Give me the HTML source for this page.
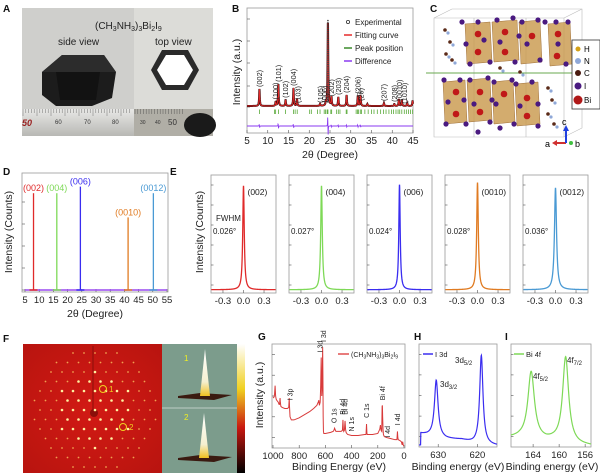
<!DOCTYPE html>
<html><head><meta charset="utf-8">
<style>
html,body{margin:0;padding:0;background:#fff;}
svg{display:block;font-family:"Liberation Sans",sans-serif;}
.t{font-size:9px;fill:#222;}
.lab{font-size:10.5px;fill:#222;}
.pl{font-size:10px;font-weight:bold;fill:#111;}
</style></head>
<body>
<svg id="fig" width="600" height="473" viewBox="0 0 600 473" xmlns="http://www.w3.org/2000/svg">
<defs>
<linearGradient id="ruler" x1="0" y1="0" x2="0" y2="1"><stop offset="0" stop-color="#e8e8e6"/><stop offset="1" stop-color="#b8b8b4"/></linearGradient>
<radialGradient id="redbg" cx="0.5" cy="0.5" r="0.7"><stop offset="0" stop-color="#d21a14"/><stop offset="1" stop-color="#b8140f"/></radialGradient>
<linearGradient id="cbar" x1="0" y1="0" x2="0" y2="1"><stop offset="0" stop-color="#fff"/><stop offset="0.35" stop-color="#f0d020"/><stop offset="0.65" stop-color="#c81810"/><stop offset="1" stop-color="#000"/></linearGradient>
<linearGradient id="peakg" x1="0" y1="0" x2="0" y2="1"><stop offset="0" stop-color="#fff"/><stop offset="0.7" stop-color="#f4f0d0"/><stop offset="1" stop-color="#f0c020"/></linearGradient>
</defs>

<!-- Panel A -->
<g>
<text class="pl" x="3" y="12">A</text>
<rect x="22" y="8" width="112" height="128" fill="#cfcfcc"/>
<rect x="134" y="8" width="79" height="128" fill="#dcdcd8"/>
<polygon points="42,72 62,55 104,55 116,72 112,98 92,106 56,106 42,95" fill="#1c1c1c"/>
<polygon points="42,72 62,55 104,55 116,72 100,72 56,72" fill="#2c2c2c"/>
<polygon points="56,72 100,72 96,100 60,100" fill="#121212"/>
<polygon points="151,70 162,50 188,50 199,70 188,90 162,90" fill="#2a2a2a"/>
<polygon points="157,70 166,55 184,55 193,70 184,85 166,85" fill="#ffffff"/>
<text x="95" y="29" font-size="10" fill="#222">(CH<tspan font-size="7" dy="2">3</tspan><tspan dy="-2">NH</tspan><tspan font-size="7" dy="2">3</tspan><tspan dy="-2">)</tspan><tspan font-size="7" dy="2">3</tspan><tspan dy="-2">Bi</tspan><tspan font-size="7" dy="2">2</tspan><tspan dy="-2">I</tspan><tspan font-size="7" dy="2">9</tspan></text>
<text x="58" y="45" font-size="10" fill="#222">side view</text>
<text x="155" y="45" font-size="10" fill="#222">top view</text>
<rect x="22" y="109" width="112" height="27" fill="url(#ruler)"/>
<rect x="134" y="109" width="79" height="27" fill="#b0aea6"/>
<ellipse cx="200" cy="125" rx="16" ry="12" fill="#1a1a1a"/>
<text x="22" y="126" font-size="9" font-style="italic" font-weight="bold" fill="#9a2020">50</text>
<text x="55" y="124" font-size="6" fill="#333">60</text>
<text x="84" y="124" font-size="6" fill="#333">70</text>
<text x="112" y="124" font-size="6" fill="#333">80</text>
<text x="140" y="124" font-size="5" fill="#333">30</text>
<text x="155" y="124" font-size="5" fill="#333">40</text>
<text x="168" y="125" font-size="8" fill="#333">50</text>
<g id="rulerticks"></g>
</g>

<!-- Panel B -->
<g>
<text class="pl" x="232" y="12">B</text>
<rect x="247" y="8" width="166" height="125" fill="none" stroke="#999" stroke-width="0.8"/>
<g id="bplot"></g>
<text class="lab" transform="translate(240,72) rotate(-90)" text-anchor="middle">Intensity (a.u.)</text>
<text class="lab" x="330" y="158" text-anchor="middle">2θ (Degree)</text>
<g>
<circle cx="348" cy="22" r="1.6" fill="none" stroke="#333" stroke-width="0.8"/>
<text x="355" y="25" font-size="8" fill="#222">Experimental</text>
<line x1="344" y1="35" x2="352" y2="35" stroke="#e52a2a" stroke-width="1.5"/>
<text x="355" y="38" font-size="8" fill="#222">Fitting curve</text>
<line x1="344" y1="48" x2="352" y2="48" stroke="#3a8a2a" stroke-width="1.5"/>
<text x="355" y="51" font-size="8" fill="#222">Peak position</text>
<line x1="344" y1="61" x2="352" y2="61" stroke="#8a3af0" stroke-width="1.5"/>
<text x="355" y="64" font-size="8" fill="#222">Difference</text>
</g>
</g>

<!-- Panel C -->
<g>
<text class="pl" x="430" y="12">C</text>
<g fill="none" stroke="#bbb" stroke-width="0.6">
<polygon points="434,18 452,9 582,9 582,128 564,137 434,137"/><line x1="434" y1="18" x2="564" y2="18"/><line x1="564" y1="18" x2="564" y2="137"/><line x1="564" y1="18" x2="582" y2="9"/><line x1="474" y1="18" x2="474" y2="137"/><line x1="526" y1="18" x2="526" y2="137"/>
</g>
<line x1="426" y1="73" x2="574" y2="73" stroke="#6aa84f" stroke-width="1"/>
<g fill="#c8974a" fill-opacity="0.8" stroke="#a0703a" stroke-width="0.5">
<polygon points="465,24 490,22 492,62 467,64"/><polygon points="492,22 517,20 519,60 494,62"/><polygon points="519,22 540,20 542,62 521,64"/><polygon points="548,24 570,22 572,64 550,66"/>
<polygon points="443,82 465,80 467,122 445,124"/><polygon points="467,80 490,78 492,120 469,122"/><polygon points="492,82 513,80 515,122 494,124"/><polygon points="515,84 538,82 540,124 517,126"/>
</g>
<g id="cmol"></g>
<rect x="572" y="40" width="28" height="69" fill="#fff" stroke="#333" stroke-width="0.8"/>
<circle cx="578" cy="49" r="2.5" fill="#d4a017"/><text x="584" y="52" font-size="8">H</text>
<circle cx="578" cy="61" r="3" fill="#8fa8d8"/><text x="584" y="64" font-size="8">N</text>
<circle cx="578" cy="73" r="3" fill="#4a1a10"/><text x="584" y="76" font-size="8">C</text>
<circle cx="578" cy="86" r="3.5" fill="#4a1a80"/><text x="584" y="89" font-size="8">I</text>
<circle cx="578" cy="100" r="4.5" fill="#b01818"/><text x="584" y="103" font-size="8">Bi</text>
<line x1="566" y1="143" x2="556" y2="143" stroke="#d03030" stroke-width="2"/><polygon points="552,143 557,140 557,146" fill="#d03030"/>
<line x1="566" y1="143" x2="566" y2="130" stroke="#2040e0" stroke-width="2"/><polygon points="566,125 563,131 569,131" fill="#2040e0"/>
<circle cx="571" cy="143" r="2" fill="#40c040"/>
<text x="545" y="147" font-size="9">a</text>
<text x="562" y="125" font-size="9">c</text>
<text x="575" y="147" font-size="9">b</text>
</g>

<!-- Panel D -->
<g>
<text class="pl" x="3" y="175">D</text>
<rect x="22" y="173" width="146" height="119" fill="none" stroke="#999" stroke-width="0.8"/>
<g id="dplot"></g>
<text class="lab" transform="translate(12,232) rotate(-90)" text-anchor="middle">Intensity (Counts)</text>
<text class="lab" x="95" y="317" text-anchor="middle">2θ (Degree)</text>
</g>

<!-- Panel E -->
<g>
<text class="pl" x="170" y="175">E</text>
<text class="lab" transform="translate(203,232) rotate(-90)" text-anchor="middle">Intensity (Counts)</text>
<text x="216" y="221" font-size="8" fill="#222">FWHM</text>
<g id="eplot"></g>
</g>

<!-- Panel F -->
<g>
<text class="pl" x="3" y="342">F</text>
<rect x="23" y="344" width="139" height="129" fill="url(#redbg)"/>
<line x1="93" y1="346" x2="93" y2="412" stroke="#8a0f0a" stroke-width="1"/>
<circle cx="94" cy="413" r="4" fill="#8a0f0a"/>
<g id="fspots"></g>
<circle cx="103" cy="389" r="3.5" fill="none" stroke="#f0d020" stroke-width="1"/>
<text x="109" y="392" font-size="8" fill="#f0d020">1</text>
<circle cx="123" cy="427" r="3.5" fill="none" stroke="#f0d020" stroke-width="1"/>
<text x="129" y="430" font-size="8" fill="#f0d020">2</text>
<rect x="162" y="344" width="75" height="129" fill="#7c9c8c"/>
<line x1="162" y1="408" x2="237" y2="408" stroke="#fff" stroke-width="0.5"/>
<polygon points="178,396 200,393 232,395 214,400 178,398" fill="#3a1a10"/>
<polygon points="200,396 205,349 210,396" fill="url(#peakg)"/>
<polygon points="178,458 200,455 232,457 214,462 178,460" fill="#3a1a10"/>
<polygon points="199,458 204,413 209,458" fill="url(#peakg)"/>
<text x="184" y="361" font-size="8" fill="#f0f020">1</text>
<text x="184" y="420" font-size="8" fill="#f0f020">2</text>
<rect x="237" y="344" width="8" height="129" fill="url(#cbar)"/>
</g>

<!-- Panel G -->
<g>
<text class="pl" x="258" y="340">G</text>
<rect x="272" y="344" width="133" height="104" fill="none" stroke="#999" stroke-width="0.8"/>
<g id="gplot"></g>
<text class="lab" transform="translate(263,395) rotate(-90)" text-anchor="middle" font-size="9.5">Intensity (a.u.)</text>
<text class="lab" x="339" y="470" text-anchor="middle">Binding Energy (eV)</text>
<line x1="338" y1="354" x2="349" y2="354" stroke="#e05050" stroke-width="1.5"/>
<text x="351" y="357" font-size="7" fill="#222">(CH<tspan font-size="5" dy="1.5">3</tspan><tspan dy="-1.5">NH</tspan><tspan font-size="5" dy="1.5">3</tspan><tspan dy="-1.5">)</tspan><tspan font-size="5" dy="1.5">3</tspan><tspan dy="-1.5">Bi</tspan><tspan font-size="5" dy="1.5">2</tspan><tspan dy="-1.5">I</tspan><tspan font-size="5" dy="1.5">9</tspan></text>
</g>

<!-- Panel H -->
<g>
<text class="pl" x="414" y="340">H</text>
<rect x="419" y="344" width="78" height="103" fill="none" stroke="#999" stroke-width="0.8"/>
<g id="hplot"></g>
<line x1="423" y1="354" x2="433" y2="354" stroke="#3a2df0" stroke-width="1.5"/>
<text x="435" y="357" font-size="7.5" fill="#222">I 3d</text>
<text x="455" y="363" font-size="8" fill="#222">3d<tspan font-size="6" dy="2">5/2</tspan></text>
<text x="440" y="387" font-size="8" fill="#222">3d<tspan font-size="6" dy="2">3/2</tspan></text>
<text class="lab" x="458" y="470" text-anchor="middle">Binding energy (eV)</text>
</g>

<!-- Panel I -->
<g>
<text class="pl" x="505" y="340">I</text>
<rect x="511" y="344" width="80" height="103" fill="none" stroke="#999" stroke-width="0.8"/>
<g id="iplot"></g>
<line x1="514" y1="354" x2="524" y2="354" stroke="#7ed957" stroke-width="1.5"/>
<text x="526" y="357" font-size="7.5" fill="#222">Bi 4f</text>
<text x="567" y="363" font-size="8" fill="#222">4f<tspan font-size="6" dy="2">7/2</tspan></text>
<text x="533" y="379" font-size="8" fill="#222">4f<tspan font-size="6" dy="2">5/2</tspan></text>
<text class="lab" x="552" y="470" text-anchor="middle">Binding energy (eV)</text>
</g>
</svg>

<script>
// ---------- data ----------
// Panel B: XRD peaks
const bPeakPos = [8.0, 11.9, 12.55, 14.3, 16.2, 17.05, 22.6, 24.0, 24.5, 25.35, 27.0, 29.0, 31.7, 32.35, 34.0, 38.0, 40.5, 41.6, 42.3, 43.6, 44.9];
const bPeakInt = [17, 4, 22, 6, 18, 7, 2, 3, 86, 9, 9, 11, 10, 11, 2, 3, 2, 7, 6, 3, 5];
const bTickPos = [8.0,11.6,11.9,12.6,14.3,16.2,16.6,17.1,20.1,20.5,22.0,22.6,23.6,23.9,24.3,24.5,25.2,25.4,26.6,27.0,27.4,28.9,29.1,31.3,31.6,31.9,32.3,32.6,33.4,34.2,35.0,35.6,36.4,37.2,37.9,38.5,39.2,39.8,40.3,40.9,41.4,41.8,42.3,42.9,43.4,43.9,44.4,44.9];
const bLabels = ["(002)","(100)","(101)","(102)","(004)","(103)","(105)","(006)","(202)","(203)","(204)","(206)","(2\u03056)","(207)","(208)","(0010)","(1010)"];
const bLabelPos = [8.0, 11.9, 12.55, 14.3, 16.2, 17.3, 22.7, 23.7, 25.4, 27.0, 29.0, 31.7, 32.5, 38.0, 40.5, 41.7, 42.9];
const bXTicks = [5,10,15,20,25,30,35,40,45];

// Panel D: 2theta scan peaks
const dPeakPos = [8.0, 16.2, 24.5, 41.3, 50.2];
const dPeakInt = [0.88, 0.88, 0.94, 0.66, 0.88];
const dLabels = ["(002)","(004)","(006)","(0010)","(0012)"];
const dColors = ["#e02a2a","#7ed957","#3a2df0","#e07b22","#4a9ad4"];
const dXTicks = [5,10,15,20,25,30,35,40,45,50,55];

// Panel E: rocking curves
const eLabels = ["(002)","(004)","(006)","(0010)","(0012)"];
const eFwhm = [0.026, 0.027, 0.024, 0.028, 0.036];
const eFwhmText = ["0.026°","0.027°","0.024°","0.028°","0.036°"];
const eHeights = [0.99, 0.99, 1.0, 1.02, 0.97];
const eXTicks = [-0.3, 0.0, 0.3];

// Panel G: XPS survey (binding energy, intensity)
const gBE  = [1000,992,988,984,980,976,972,966,960,954,950,946,944,940,930,910,890,880,876,874,870,860,840,800,760,720,690,665,655,650,646,640,636,632,630,628,624,621,619,617,615,612,600,560,540,535,530,520,480,470,466,463,460,455,450,446,442,437,430,400,350,300,290,286,283,280,240,200,185,180,175,170,167,165,163,160,157,154,150,130,100,70,60,54,50,47,44,30,20,14,10,6,2,0];
const gInt = [48,49,52,60,50,47,46,45,44,42,42,48,44,40,39,38,38,39,48,40,30,27,27,29,32,35,38,41,44,46,41,44,60,87,70,50,60,97,70,30,16,14,14,15,16,17,19,16,16,17,27,18,16,17,26,18,15,14,13,12,12,13,13,23,14,13,13,14,18,22,17,16,40,41,30,18,13,12,11,10,9,8,8,8,16,10,8,7,6,3,6,3,2,2];
const gXTicks = [1000,800,600,400,200,0];
const gLabels = ["I 3p","I 3d","I 3d","O 1s","Bi 4d","Bi 4d","N 1s","C 1s","Bi 4f","I 4d","I 4d"];
const gLabelBE = [870, 640, 615, 535, 470, 450, 400, 285, 165, 125, 50];
const gLabelInt = [44, 90, 100, 22, 30, 30, 14, 27, 44, 8, 20];

// Panel H: I 3d
const hPeakPos = [630.5, 619.0];
const hPeakInt = [55, 86];
const hPeakWid = [0.55, 0.5];
const hBgBE  = [634.5, 632, 628, 624, 621, 617, 614];
const hBgInt = [13, 11, 8, 7, 4, 2, 1];
const hXTicks = [630, 620];

// Panel I: Bi 4f
const iPeakPos = [164.3, 159.0];
const iPeakInt = [65, 83];
const iPeakWid = [0.6, 0.55];
const iBgBE  = [167.5, 166, 162, 161, 157, 155];
const iBgInt = [9, 9, 6, 6, 2, 1];
const iXTicks = [164, 160, 156];

// ---------- helpers ----------
const NS = "http://www.w3.org/2000/svg";
function mk(tag, attrs, parent) {
  const e = document.createElementNS(NS, tag);
  for (const k in attrs) e.setAttribute(k, attrs[k]);
  parent.appendChild(e);
  return e;
}
function lin(d0, d1, r0, r1) { return v => r0 + (v - d0) * (r1 - r0) / (d1 - d0); }
function lor(x, c, g) { return g * g / ((x - c) * (x - c) + g * g); }
function interp(xs, ys, x) {
  for (let i = 0; i < xs.length - 1; i++) {
    const a = xs[i], b = xs[i + 1];
    if ((x - a) * (x - b) <= 0) return ys[i] + (ys[i + 1] - ys[i]) * (x - a) / (b - a);
  }
  return ys[ys.length - 1];
}

// ---------- Ruler ticks (decoration) ----------
(function(){
  const g = document.getElementById('rulerticks');
  for (let x = 23; x < 132; x += 2.8) {
    const t = mk('line', {x1:x, y1:109, x2:x, y2: (Math.round((x-23)/2.8)%5===0)?116:113, stroke:'#555', 'stroke-width':0.4}, g);
    
    
  }
  for (let x = 135; x < 185; x += 2.8) {
    const t = mk('line', {x1:x, y1:109, x2:x, y2:114, stroke:'#444', 'stroke-width':0.4}, g);
    
    
  }
})();

// ---------- Panel B ----------
(function(){
  const g = document.getElementById('bplot');
  const x = lin(5, 45, 247, 413);
  const y = v => 106 - v;
  [19,41,63,86,107].forEach(yy => {
    const t = mk('line', {x1:247, y1:yy, x2:250, y2:yy, stroke:'#555', 'stroke-width':0.6}, g);
    
    
  });
  bXTicks.forEach(v => {
    const t = mk('line', {x1:x(v), y1:133, x2:x(v), y2:130, stroke:'#555', 'stroke-width':0.6}, g);
    
    
    const l = mk('text', {x:x(v), y:144, 'text-anchor':'middle', 'font-size':10, fill:'#222'}, g);
    l.textContent = v;
    
    
  });
  let d = '', dd = '';
  for (let t = 5; t <= 45; t += 0.04) {
    let s = 0, diff = 0;
    for (let i = 0; i < bPeakPos.length; i++) {
      s += bPeakInt[i] * lor(t, bPeakPos[i], 0.09);
      diff += (bPeakInt[i] > 8 ? bPeakInt[i] * 0.12 : 0) * (lor(t, bPeakPos[i] - 0.05, 0.04) - lor(t, bPeakPos[i] + 0.05, 0.04));
    }
    d += (d ? 'L' : 'M') + x(t).toFixed(2) + ',' + y(s).toFixed(2);
    dd += (dd ? 'L' : 'M') + x(t).toFixed(2) + ',' + (126 - diff).toFixed(2);
  }
  const exp = mk('path', {d:d, fill:'none', stroke:'#3a0808', 'stroke-width':2}, g);
  
  
  const fit = mk('path', {d:d, fill:'none', stroke:'#e52a2a', 'stroke-width':0.9}, g);
  
  
  const mp = bPeakPos[8], mh = bPeakInt[8];
  for (let v = 4; v < mh; v += 2.2) {
    const c = mk('circle', {cx:x(mp), cy:y(v), r:0.8, fill:'#444'}, g);
    
    
  }
  const df = mk('path', {d:dd, fill:'none', stroke:'#8a3af0', 'stroke-width':0.9}, g);
  
  
  bTickPos.forEach(p => {
    const t = mk('line', {x1:x(p), y1:109.5, x2:x(p), y2:114, stroke:'#5aaa3a', 'stroke-width':0.8}, g);
    
    
  });
  bLabels.forEach((s, i) => {
    const p = bLabelPos[i];
    let h = 0;
    for (let k = 0; k < bPeakPos.length; k++) h += bPeakInt[k] * lor(p, bPeakPos[k], 0.09);
    const xx = x(p) + 2.5, yy = y(Math.min(h, 50)) - 2;
    const l = mk('text', {x:0, y:0, 'font-size':7.3, fill:'#222', transform:`translate(${xx},${yy}) rotate(-90)`}, g);
    l.textContent = s;
    
    
  });
})();

// ---------- Panel C molecules (decoration) ----------
(function(){
  const g = document.getElementById('cmol');
  const iod = [[462,22],[478,22],[466,44],[484,40],[497,20],[513,18],[500,42],[519,36],[522,22],[538,20],[527,44],[545,22],[556,22],[568,22],[558,44],[540,60],[566,64],[470,64],[490,62],[515,62],
    [444,80],[460,80],[448,102],[464,100],[470,80],[488,78],[474,104],[492,100],[494,82],[512,80],[496,104],[516,84],[532,82],[520,106],[538,104],[446,124],[466,124],[490,122],[514,124],[538,126],[478,132],[500,128]];
  iod.forEach(p => {
    const c = mk('circle', {cx:p[0], cy:p[1], r:2.6, fill:'#4a1a80'}, g);
    
    
  });
  [[478,34],[478,52],[505,32],[505,52],[532,36],[558,34],[557,56],[456,92],[456,114],[480,92],[480,112],[504,94],[527,98],[527,116]].forEach(p => {
    const c = mk('circle', {cx:p[0], cy:p[1], r:3.3, fill:'#c01818'}, g);
    
    
  });
  [[445,30],[450,42],[446,54],[452,60],[548,88],[552,100],[548,114],[554,124],[500,68],[520,72]].forEach(p => {
    const c = mk('circle', {cx:p[0], cy:p[1], r:1.8, fill:'#5a2a18'}, g);
    
    
    const n = mk('circle', {cx:p[0]+3, cy:p[1]+3, r:1.6, fill:'#8fa8d8'}, g);
    
    
  });
})();

// ---------- Panel D ----------
(function(){
  const g = document.getElementById('dplot');
  const x = lin(5, 55, 25, 167);
  const y = lin(0, 1, 290, 180);
  [0,0.2,0.4,0.6,0.8].forEach(v => {
    const t = mk('line', {x1:22, y1:y(v), x2:25, y2:y(v), stroke:'#555', 'stroke-width':0.6}, g);
    
    
  });
  dXTicks.forEach(v => {
    const t = mk('line', {x1:x(v), y1:292, x2:x(v), y2:289, stroke:'#555', 'stroke-width':0.6}, g);
    
    
    const l = mk('text', {x:x(v), y:303, 'text-anchor':'middle', 'font-size':9.5, fill:'#222'}, g);
    l.textContent = v;
    
    
  });
  const base = mk('line', {x1:25, y1:y(0), x2:167, y2:y(0), stroke:'#9a4af0', 'stroke-width':1.5}, g);
  
  
  dPeakPos.forEach((p, i) => {
    const l = mk('line', {x1:x(p), y1:y(0), x2:x(p), y2:y(dPeakInt[i]), stroke:dColors[i], 'stroke-width':1.3}, g);
    
    
    const b = mk('line', {x1:x(p)-4, y1:y(0), x2:x(p)+4, y2:y(0), stroke:dColors[i], 'stroke-width':1.5}, g);
    
    
    const t = mk('text', {x:x(p), y:y(dPeakInt[i]) - 2, 'text-anchor':'middle', 'font-size':9, fill:dColors[i]}, g);
    t.textContent = dLabels[i];
    
    
  });
})();

// ---------- Panel E ----------
(function(){
  const g = document.getElementById('eplot');
  const left0 = 211, step = 78, w = 65, top = 175, bot = 293;
  eLabels.forEach((lab, i) => {
    const L = left0 + step * i;
    const x = lin(-0.475, 0.475, L, L + w);
    const y = lin(0, 1, 291, 186);
    const fr = mk('rect', {x:L, y:top, width:w, height:bot-top, fill:'none', stroke:'#999', 'stroke-width':0.8}, g);
    
    
    for (let k = 0; k < 6; k++) {
      const t = mk('line', {x1:L, y1:top + 10 + k * 20, x2:L + 2.5, y2:top + 10 + k * 20, stroke:'#555', 'stroke-width':0.6}, g);
      
      
    }
    eXTicks.forEach(v => {
      const t = mk('line', {x1:x(v), y1:bot, x2:x(v), y2:bot - 3, stroke:'#555', 'stroke-width':0.6}, g);
      
      
      const tl = mk('text', {x:x(v), y:304, 'text-anchor':'middle', 'font-size':9.5, fill:'#222'}, g);
      tl.textContent = v.toFixed(1);
      
      
    });
    let d = '';
    const gam = eFwhm[i] * 0.5;
    for (let v = -0.47; v <= 0.47; v += 0.001) {
      const s = eHeights[i] * lor(v, 0, gam) + 0.012;
      d += (d ? 'L' : 'M') + x(v).toFixed(2) + ',' + y(s).toFixed(2);
    }
    const c = mk('path', {d:d, fill:'none', stroke:dColors[i], 'stroke-width':1.3}, g);
    
    
    const pl = mk('text', {x:x(0) + 4, y:195, 'font-size':8.5, fill:'#222'}, g);
    pl.textContent = lab;
    
    
    const fw = mk('text', {x:L + 2, y:234, 'font-size':8, fill:'#222'}, g);
    fw.textContent = eFwhmText[i];
    
    
  });
})();

// ---------- Panel F spots (decoration) ----------
(function(){
  const g = document.getElementById('fspots');
  const cx = 95, cy = 410;
  for (let a = -6; a <= 6; a++) for (let b = -6; b <= 6; b++) {
    const px = cx + a * 11 + b * 5.5, py = cy + b * 9.5;
    const r2 = (px - cx) * (px - cx) + (py - cy) * (py - cy);
    if (px < 27 || px > 158 || py < 350 || py > 468 || r2 > 4200) continue;
    const s = mk('circle', {cx:px, cy:py, r: r2 < 1500 ? 1.3 : 0.9, fill: r2 < 1500 ? '#fff2a0' : '#f0a050'}, g);
    
    
  }
})();

// ---------- Panel G ----------
(function(){
  const g = document.getElementById('gplot');
  const x = lin(1000, 0, 273, 404);
  const y = lin(0, 100, 448, 344);
  [10,30,50,70,90].forEach(v => {
    const t = mk('line', {x1:272, y1:y(v), x2:275, y2:y(v), stroke:'#555', 'stroke-width':0.6}, g);
    
    
  });
  gXTicks.forEach(v => {
    const t = mk('line', {x1:x(v), y1:448, x2:x(v), y2:445, stroke:'#555', 'stroke-width':0.6}, g);
    
    
    const l = mk('text', {x:x(v), y:459, 'text-anchor':'middle', 'font-size':9.5, fill:'#222'}, g);
    l.textContent = v;
    
    
  });
  const d = gBE.map((b, i) => (i ? 'L' : 'M') + x(b).toFixed(2) + ',' + y(gInt[i]).toFixed(2)).join('');
  const p = mk('path', {d:d, fill:'none', stroke:'#d83a3a', 'stroke-width':1}, g);
  
  
  gLabels.forEach((s, i) => {
    const xx = x(gLabelBE[i]) + 2.5, yy = y(gLabelInt[i]) - 2;
    const l = mk('text', {x:0, y:0, 'font-size':7, fill:'#222', transform:`translate(${xx},${yy}) rotate(-90)`}, g);
    l.textContent = s;
    
    
  });
})();

// ---------- Panels H & I ----------
function xpsPanel(id, xmin, xmax, L, R, ticks, pos, ints, wids, bgx, bgy, color, name) {
  const g = document.getElementById(id);
  const x = lin(xmin, xmax, L, R);
  const y = lin(0, 100, 447, 344);
  [10,30,50,70,90].forEach(v => {
    const t = mk('line', {x1:L, y1:y(v), x2:L + 2.5, y2:y(v), stroke:'#555', 'stroke-width':0.6}, g);
    
    
  });
  ticks.forEach(v => {
    const t = mk('line', {x1:x(v), y1:447, x2:x(v), y2:444, stroke:'#555', 'stroke-width':0.6}, g);
    
    
    const l = mk('text', {x:x(v), y:458, 'text-anchor':'middle', 'font-size':9.5, fill:'#222'}, g);
    l.textContent = v;
    
    
  });
  let d = '';
  const stp = (xmax - xmin) / 300;
  for (let k = 0; k <= 300; k++) {
    const e = xmin + k * stp;
    let s = interp(bgx, bgy, e);
    for (let i = 0; i < pos.length; i++) s += ints[i] * lor(e, pos[i], wids[i]);
    d += (d ? 'L' : 'M') + x(e).toFixed(2) + ',' + y(s).toFixed(2);
  }
  const p = mk('path', {d:d, fill:'none', stroke:color, 'stroke-width':1.2}, g);
  
  
}
xpsPanel('hplot', 634.9, 615.0, 419, 497, hXTicks, hPeakPos, hPeakInt, hPeakWid, hBgBE, hBgInt, '#3a2df0', 'h');
xpsPanel('iplot', 167.4, 155.1, 511, 591, iXTicks, iPeakPos, iPeakInt, iPeakWid, iBgBE, iBgInt, '#7ed957', 'i');
</script>
</body></html>
